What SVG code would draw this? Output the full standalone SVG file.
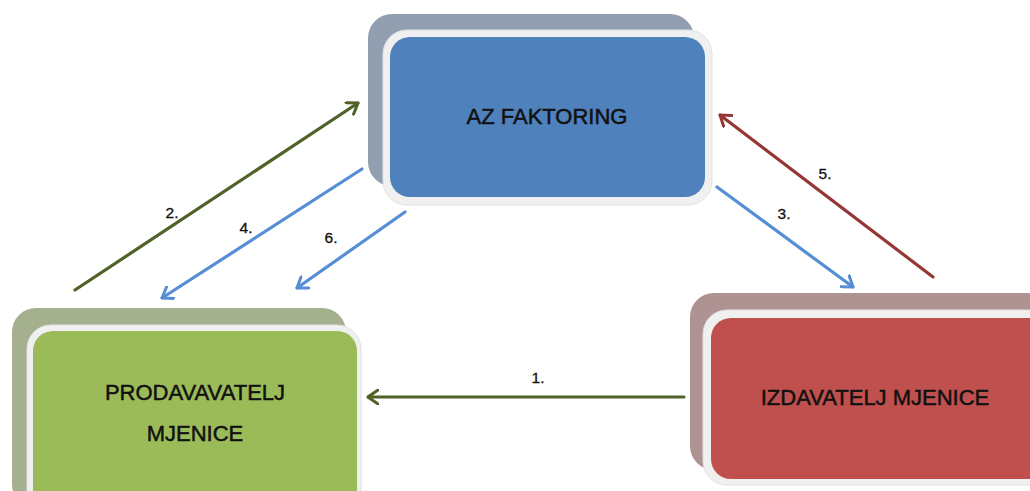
<svg xmlns="http://www.w3.org/2000/svg" width="1030" height="491" viewBox="0 0 1030 491">
<style>
.t{font-family:"Liberation Sans",Arial,sans-serif;font-size:22px;fill:#111;stroke:#111;stroke-width:0.5;text-anchor:middle}
.l{font-family:"Liberation Sans",Arial,sans-serif;font-size:15.5px;fill:#111;stroke:#111;stroke-width:0.3;text-anchor:middle}
.frame{fill:#F0F0F0;stroke:#E2E2E2;stroke-width:1}
.c{fill:none;stroke-width:3.2;stroke-linecap:round}
</style>
<defs>
<marker id="mg" viewBox="0 0 12 16" refX="11" refY="8" markerWidth="12" markerHeight="16" markerUnits="userSpaceOnUse" orient="auto"><path d="M1,1 L11,8 L1,15" fill="none" stroke="#4F6228" stroke-width="3" stroke-linecap="round"/></marker>
<marker id="mb" viewBox="0 0 12 16" refX="11" refY="8" markerWidth="12" markerHeight="16" markerUnits="userSpaceOnUse" orient="auto"><path d="M1,1 L11,8 L1,15" fill="none" stroke="#558ED5" stroke-width="3" stroke-linecap="round"/></marker>
<marker id="mr" viewBox="0 0 12 16" refX="11" refY="8" markerWidth="12" markerHeight="16" markerUnits="userSpaceOnUse" orient="auto"><path d="M1,1 L11,8 L1,15" fill="none" stroke="#953735" stroke-width="3" stroke-linecap="round"/></marker>
</defs>
<g id="az-faktoring">
<rect x="368" y="14" width="326" height="172" rx="24" fill="#929FB0"/>
<rect class="frame" x="383" y="30" width="329" height="175" rx="24"/>
<rect x="390" y="37" width="315" height="160" rx="20" fill="#4F81BD"/>
<text class="t" x="547" y="124">AZ FAKTORING</text>
</g>
<g id="prodavavatelj">
<rect x="12" y="308" width="334" height="200" rx="24" fill="#A5B08F"/>
<rect class="frame" x="27" y="325" width="334" height="190" rx="24"/>
<rect x="33" y="331" width="324" height="180" rx="20" fill="#9BBB59"/>
<text class="t" x="195" y="400">PRODAVAVATELJ</text>
<text class="t" x="195" y="441">MJENICE</text>
</g>
<g id="izdavatelj">
<rect x="690" y="293" width="360" height="177" rx="24" fill="#AF9292"/>
<rect class="frame" x="703" y="310" width="360" height="175" rx="24"/>
<rect x="711" y="318" width="350" height="161" rx="20" fill="#C0504D"/>
<text class="t" x="875" y="405">IZDAVATELJ MJENICE</text>
</g>
<g id="connectors">
<line class="c" x1="684" y1="397" x2="368" y2="397" stroke="#4F6228" marker-end="url(#mg)"/>
<line class="c" x1="75" y1="290" x2="358" y2="103" stroke="#4F6228" marker-end="url(#mg)"/>
<line class="c" x1="717" y1="187" x2="853" y2="287" stroke="#558ED5" marker-end="url(#mb)"/>
<line class="c" x1="362" y1="169" x2="162" y2="298" stroke="#558ED5" marker-end="url(#mb)"/>
<line class="c" x1="933" y1="277" x2="720" y2="115" stroke="#953735" marker-end="url(#mr)"/>
<line class="c" x1="405" y1="212" x2="297" y2="288" stroke="#558ED5" marker-end="url(#mb)"/>
</g>
<g id="labels">
<text class="l" x="538" y="383">1.</text>
<text class="l" x="172" y="218">2.</text>
<text class="l" x="784" y="219">3.</text>
<text class="l" x="246" y="233">4.</text>
<text class="l" x="825" y="179">5.</text>
<text class="l" x="331" y="243">6.</text>
</g>
</svg>
